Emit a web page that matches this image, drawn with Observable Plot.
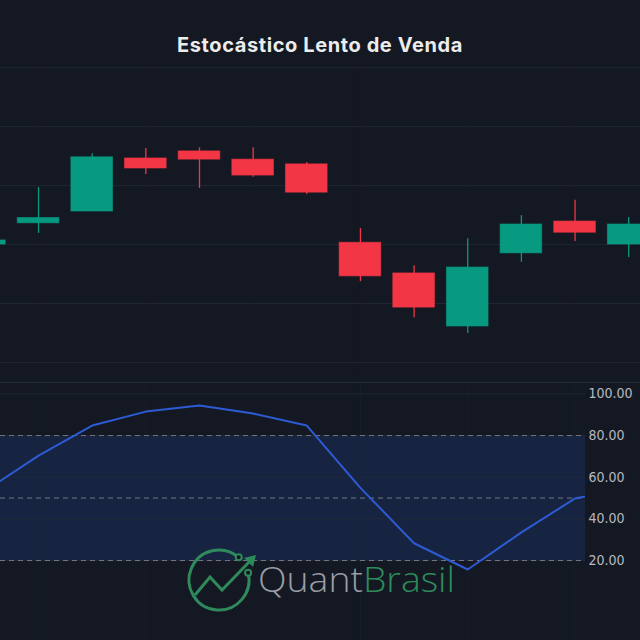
<!DOCTYPE html>
<html>
<head>
<meta charset="utf-8">
<script src="https://cdn.jsdelivr.net/npm/d3@7"></script>
<script src="https://cdn.jsdelivr.net/npm/@observablehq/plot@0.6"></script>
<style>
  html, body { margin: 0; padding: 0; background: #141823; }
  #wrap { position: relative; width: 640px; height: 640px; overflow: hidden; background: #141823; }
  #title { height: 32px; padding-top: 34px; line-height: 22px; text-align: center; color: #ececec;
           font-family: Inter, Lato, "DejaVu Sans", sans-serif; font-weight: 700; font-size: 20px; letter-spacing: 0.6px; }
  #upper, #lower { height: auto; line-height: 0; }
  #upper svg, #lower svg { display: block; }
  #lower { border-top: 1px solid #262b38; }
  #logo { position: absolute; left: 0; top: 0; pointer-events: none; }
</style>
</head>
<body>
<div id="wrap">
  <div id="title">Estocástico Lento de Venda</div>
  <div id="upper"></div>
  <div id="lower"></div>
  <svg id="logo" width="640" height="640"></svg>
</div>
<script>
// ---- data ----
const candleIndex = [0, 1, 2, 3, 4, 5, 6, 7, 8, 9, 10, 11, 12];
const openPrice  = [100.00, 100.36, 100.56, 101.46, 101.58, 101.44, 101.36, 100.03, 99.51, 98.61, 99.85, 100.39, 100.00];
const highPrice  = [100.07, 100.97, 101.54, 101.63, 101.64, 101.64, 101.39, 100.27, 99.64, 100.10, 100.49, 100.75, 100.46];
const lowPrice   = [100.00, 100.19, 100.56, 101.19, 100.95, 101.14, 100.85, 99.37, 98.76, 98.49, 99.70, 100.05, 99.78];
const closePrice = [100.07, 100.45, 101.48, 101.29, 101.44, 101.17, 100.88, 99.46, 98.93, 99.61, 100.34, 100.20, 100.34];
const stochK     = [53.3, 70.4, 84.8, 91.5, 94.4, 90.6, 84.8, 54.9, 28.3, 15.7, 33.5, 49.8, 55.0];
const priceGrid  = [98, 99, 100, 101, 102, 103];
const stochTicks = [20, 40, 60, 80, 100];
const stochLevels = [20, 50, 80];
const stochBand  = [{lo: 20, hi: 80}];
const timeGrid   = [1, 3, 5, 7, 9, 11];

const GREEN = "#089981", RED = "#f23645";
const candles = candleIndex.map((i, k) => ({
  i, open: openPrice[k], high: highPrice[k], low: lowPrice[k], close: closePrice[k]
}));
const stoch = candleIndex.map((i, k) => ({i, k: stochK[k]}));
const half = 0.388;
const colorOf = d => d.close >= d.open ? GREEN : RED;

const upper = Plot.plot({
  width: 640, height: 316, margin: 0,
  style: {background: "transparent", overflow: "hidden"},
  x: {type: "linear", domain: [0.291, 12.22], axis: null},
  y: {domain: [97.66, 103.02], axis: null},
  color: {type: "identity"},
  marks: [
    Plot.gridY(priceGrid, {stroke: "#212634", strokeOpacity: 1}),
    Plot.gridX(timeGrid, {stroke: "#161a26", strokeOpacity: 1}),
    Plot.ruleX(candles, {x: "i", y1: "low", y2: "high", stroke: colorOf, strokeWidth: 1.3}),
    Plot.rect(candles, {
      x1: d => d.i - half, x2: d => d.i + half,
      y1: d => Math.min(d.open, d.close), y2: d => Math.max(d.open, d.close),
      fill: colorOf, stroke: colorOf, strokeOpacity: 0.6
    })
  ]
});
document.getElementById("upper").appendChild(upper);

const lower = Plot.plot({
  width: 640, height: 257, marginLeft: 0, marginTop: 0, marginBottom: 0, marginRight: 55,
  style: {background: "transparent", fontFamily: "'DejaVu Sans Condensed', 'Liberation Sans Narrow', 'DejaVu Sans', sans-serif"},
  x: {type: "linear", domain: [0.291, 11.195], axis: null},
  y: {domain: [-18.4, 105], axis: null},
  marks: [
    Plot.rect(stochBand, {y1: "lo", y2: "hi", fill: "#172441"}),
    Plot.gridY(stochTicks, {stroke: "#212838", strokeOpacity: 1}),
    Plot.gridX(timeGrid, {stroke: "#1c2438", strokeOpacity: 0.35}),
    Plot.ruleY(stochLevels, {stroke: "#737785", strokeDasharray: "5,4", strokeWidth: 1}),
    Plot.lineY(stoch, {x: "i", y: "k", stroke: "#2c5bd3", strokeWidth: 2, clip: true}),
    Plot.axisY(stochTicks, {anchor: "right", tickSize: 0, tickPadding: 3, label: null,
      tickFormat: d => d.toFixed(2), fill: "#b6b9c2", fontSize: 14})
  ]
});
document.getElementById("lower").appendChild(lower);

// ---- watermark logo (decoration) ----
const logo = d3.select("#logo");
const gc = "#2e8a5b";
const cx = 219, cy = 580, r = 30;
const a0 = -49 * Math.PI / 180, a1 = -14 * Math.PI / 180;
const p0 = [cx + r * Math.cos(a0), cy + r * Math.sin(a0)];
const p1 = [cx + r * Math.cos(a1), cy + r * Math.sin(a1)];
logo.append("path")
  .attr("d", `M${p0[0]},${p0[1]} A${r},${r} 0 1 0 ${p1[0]},${p1[1]}`)
  .attr("fill", "none").attr("stroke", gc).attr("stroke-width", 3);
[p0, p1].forEach(p => logo.append("circle").attr("cx", p[0]).attr("cy", p[1]).attr("r", 3)
  .attr("fill", "#141823").attr("stroke", gc).attr("stroke-width", 2));
logo.append("polyline").attr("points", "195,595 210,577 222,590 252,559")
  .attr("fill", "none").attr("stroke", gc).attr("stroke-width", 3).attr("stroke-linejoin", "miter");
logo.append("polygon").attr("points", "256,555 244,558 253,567").attr("fill", gc);
const t = logo.append("text").attr("x", 258).attr("y", 592)
  .attr("font-family", "'Open Sans', Lato, sans-serif").attr("font-weight", 300).attr("font-size", 35)
  .attr("textLength", 197).attr("lengthAdjust", "spacingAndGlyphs");
t.append("tspan").attr("fill", "#9a9da5").text("Quant");
t.append("tspan").attr("fill", gc).text("Brasil");
</script>
</body>
</html>
